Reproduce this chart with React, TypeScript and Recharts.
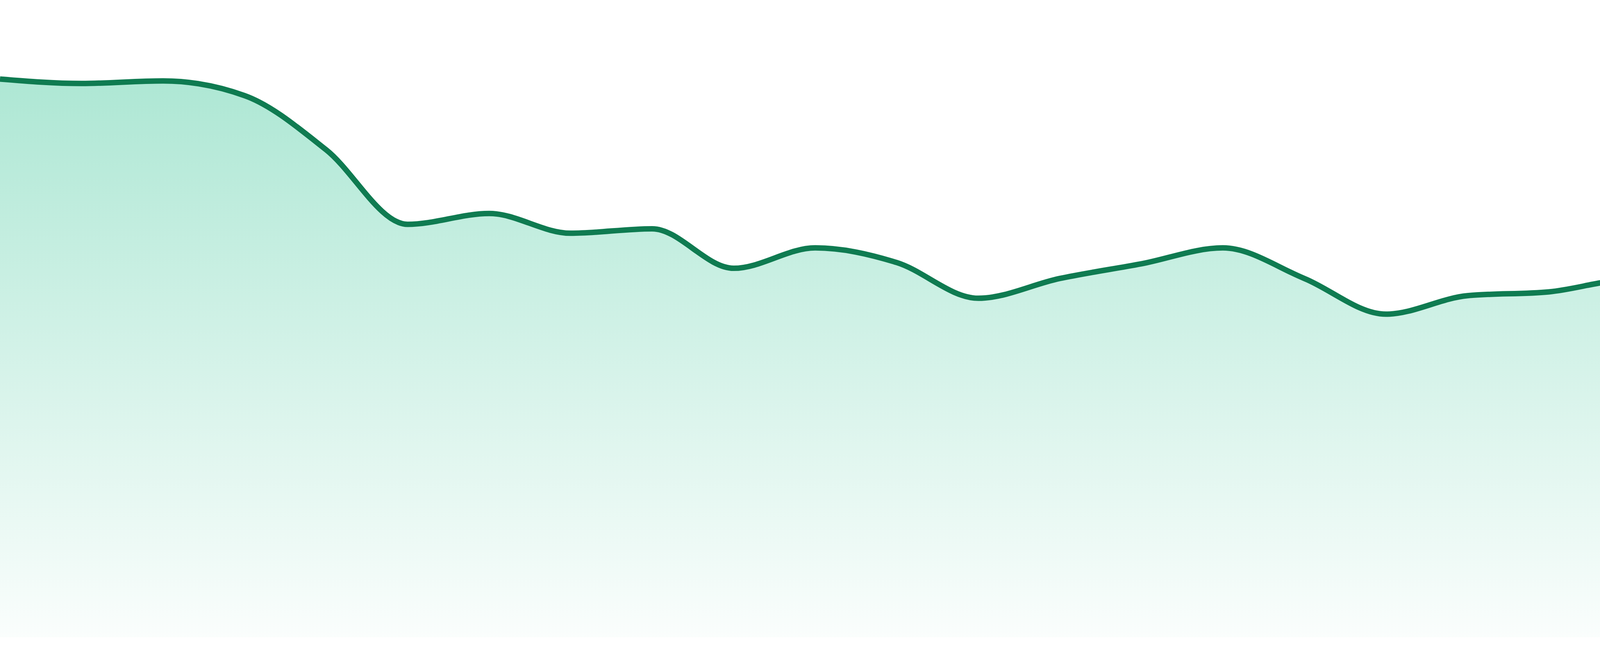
import { AreaChart, Area, XAxis, YAxis } from 'recharts';

// 24 evenly spaced samples
const days = [
  'D01', 'D02', 'D03', 'D04', 'D05', 'D06', 'D07', 'D08',
  'D09', 'D10', 'D11', 'D12', 'D13', 'D14', 'D15', 'D16',
  'D17', 'D18', 'D19', 'D20', 'D21', 'D22', 'D23', 'D24',
];

const values = [
  87.6, 86.9, 87.3, 85.0, 76.5, 64.8, 66.5, 63.4,
  64.1, 57.9, 61.1, 58.8, 53.2, 56.3, 58.6, 61.1,
  56.3, 50.7, 53.6, 54.2, 56.1, 52.9, 57.1, 57.2,
];

const data = days.map((day, i) => ({ day, value: values[i] }));

export default function App() {
  return (
    <div style={{ position: 'absolute', top: 0, left: 0, width: 4800, height: 1680, background: '#fff' }}>
      <AreaChart width={4800} height={1680} data={data} margin={{ top: 0, right: 0, bottom: 48, left: 0 }}>
        <defs>
          <linearGradient id="fillGreen" x1="0" y1="0" x2="0" y2="1">
            <stop offset="0%" stopColor="#10b981" stopOpacity={0.34} />
            <stop offset="100%" stopColor="#10b981" stopOpacity={0.02} />
          </linearGradient>
        </defs>
        <XAxis dataKey="day" hide padding={{ left: 0, right: 0 }} />
        <YAxis hide domain={[0, 100]} />
        <Area
          type="monotone"
          dataKey="value"
          stroke="#0f7b51"
          strokeWidth={14}
          fill="url(#fillGreen)"
          fillOpacity={1}
          dot={false}
          activeDot={false}
          isAnimationActive={false}
        />
      </AreaChart>
    </div>
  );
}
